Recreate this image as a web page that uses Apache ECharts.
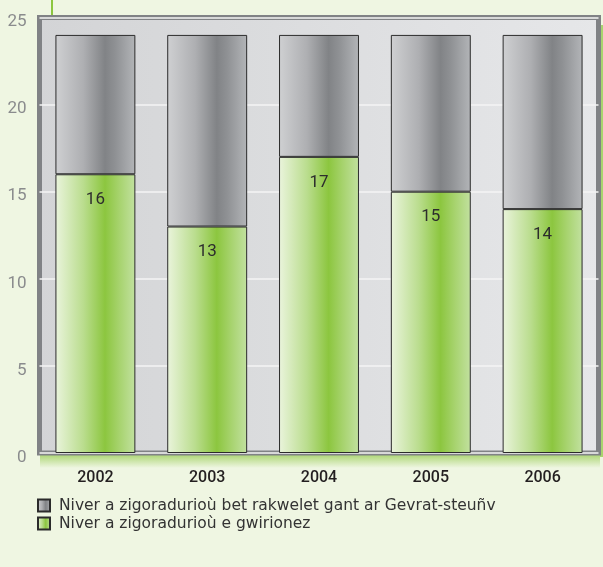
<!DOCTYPE html>
<html><head><meta charset="utf-8">
<script src="https://cdn.jsdelivr.net/npm/echarts@6/dist/echarts.min.js"></script>
<style>html,body{margin:0;padding:0;background:#eff6e2;}#c{width:603px;height:567px;}</style>
</head><body><div id="c"></div>
<script>
const years = ['2002','2003','2004','2005','2006'];
const realValues = [16, 13, 17, 15, 14];
const plannedRemainder = [8, 11, 7, 9, 10];
const yTicks = [0, 5, 10, 15, 20, 25];
const seriesNames = ['Niver a zigoradurioù bet rakwelet gant ar Gevrat-steuñv', 'Niver a zigoradurioù e gwirionez'];

const G = echarts.graphic;
const grayGrad = new G.LinearGradient(0,0,1,0,[
  {offset:0,color:'#cfd0d2'},{offset:0.35,color:'#aeafb2'},{offset:0.62,color:'#818386'},
  {offset:0.75,color:'#8f9194'},{offset:1,color:'#b3b5b8'}]);
const greenGrad = new G.LinearGradient(0,0,1,0,[
  {offset:0,color:'#eaf4dc'},{offset:0.35,color:'#badd8e'},{offset:0.62,color:'#8cc63f'},
  {offset:0.8,color:'#a7d36e'},{offset:1,color:'#c2e1a0'}]);
const plotBg = new G.LinearGradient(0,0,1,0,[
  {offset:0,color:'#d3d4d6'},{offset:1,color:'#e6e7e9'}]);

const chart = echarts.init(document.getElementById('c'), null, {renderer:'canvas'});
chart.setOption({
  backgroundColor:'#eff6e2',
  animation:false,
  textStyle:{fontFamily:'Roboto'},
  graphic:[
    {type:'rect', z:-1, shape:{x:40,y:454,width:560,height:14},
      style:{fill:new G.LinearGradient(0,0,0,1,[{offset:0,color:'rgba(140,198,63,0.7)'},{offset:1,color:'rgba(140,198,63,0)'}])}},
    {type:'rect', z:-1, shape:{x:600,y:25,width:3,height:432}, style:{fill:'#a8d46e'}},
    {type:'rect', z:-1, shape:{x:51,y:0,width:2,height:16}, style:{fill:'#8cc63f'}}
  ],
  grid:{left:39.5, right:4.5, top:17.5, bottom:114, show:true, backgroundColor:plotBg,
        borderColor:'#808285', borderWidth:5},
  legend:{orient:'vertical', left:37, top:497.5, padding:0, itemWidth:12, itemHeight:12, itemGap:2,
    icon:'rect',
    data:[seriesNames[0], seriesNames[1]],
    textStyle:{fontSize:15.5, color:'#333', fontFamily:'DejaVu Sans', padding:[0,0,0,4]}},
  xAxis:{type:'category', data:years,
    axisLine:{show:false}, axisTick:{show:false},
    axisLabel:{fontSize:16, color:'#231f20', fontWeight:500, margin:17}},
  yAxis:{type:'value', min:0, max:25, interval:5,
    axisLine:{show:false}, axisTick:{show:false},
    splitLine:{show:true, lineStyle:{color:'#f4f4f4', width:1.5}},
    axisLabel:{fontSize:17, color:'#8a8b8d', margin:13, verticalAlign:'top', padding:[-4,0,0,0],
      formatter:v=>yTicks.includes(v)?String(v):''}},
  series:[
    {name:seriesNames[1], type:'bar', stack:'t', data:realValues, barCategoryGap:'28.5%',
      itemStyle:{color:greenGrad, borderColor:'#2b2b2b', borderWidth:1},
      label:{show:true, position:'insideTop', distance:17, fontSize:17, color:'#2d2d2d'}},
    {name:seriesNames[0], type:'bar', stack:'t', data:plannedRemainder,
      itemStyle:{color:grayGrad, borderColor:'#2b2b2b', borderWidth:1}}
  ]
});
</script></body></html>
